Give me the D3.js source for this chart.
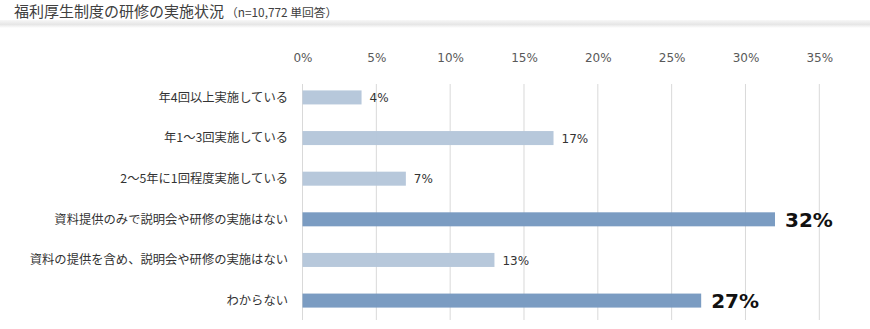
<!DOCTYPE html>
<html lang="ja">
<head>
<meta charset="utf-8">
<script src="https://cdn.jsdelivr.net/npm/d3@7"></script>
<style>
  html, body { margin: 0; padding: 0; background: #ffffff; }
  svg { display: block; font-family: "Noto Sans CJK JP", "Noto Sans", sans-serif; }
</style>
</head>
<body>
<svg id="chart" width="870" height="329"></svg>
<script>
// Survey answers, top to bottom
const categories = [
  "年4回以上実施している",
  "年1～3回実施している",
  "2～5年に1回程度実施している",
  "資料提供のみで説明会や研修の実施はない",
  "資料の提供を含め、説明会や研修の実施はない",
  "わからない"
];
const values = [4, 17, 7, 32, 13, 27];
const highlighted = [false, false, false, true, false, true];
const tickValues = [0, 5, 10, 15, 20, 25, 30, 35];

const titleText = "福利厚生制度の研修の実施状況";
const noteText = "（n=10,772 単回答）";

const svg = d3.select("#chart");
const W = 870, H = 329;

// Header band under the title
const defs = svg.append("defs");
const grad = defs.append("linearGradient")
  .attr("id", "band").attr("x1", 0).attr("y1", 0).attr("x2", 0).attr("y2", 1);
grad.append("stop").attr("offset", "0%").attr("stop-color", "#f7f7f7");
grad.append("stop").attr("offset", "55%").attr("stop-color", "#e6e6e6");
grad.append("stop").attr("offset", "100%").attr("stop-color", "#ffffff");
svg.append("rect").attr("x", 0).attr("y", 20).attr("width", W).attr("height", 8)
  .attr("fill", "url(#band)");

const title = svg.append("text").attr("x", 14).attr("y", 17)
  .attr("fill", "#404040");
title.append("tspan").attr("font-size", 15).text(titleText);
title.append("tspan").attr("font-size", 11.8).attr("dx", 2).text(noteText);

// Scales
const x = d3.scaleLinear().domain([0, 35]).range([302.5, 819.3]);
const y = d3.scaleBand().domain(categories).range([77, 321]).paddingInner(0.655).paddingOuter(0.33);

// Vertical gridlines
svg.append("g").selectAll("line").data(tickValues).join("line")
  .attr("x1", d => x(d)).attr("x2", d => x(d))
  .attr("y1", 84).attr("y2", 320)
  .attr("stroke", "#d9d9d9").attr("stroke-width", 1);

// Top axis labels
const axis = d3.axisTop(x).tickValues(tickValues).tickFormat(d => d + "%").tickSize(0).tickPadding(0);
const gAxis = svg.append("g").attr("transform", "translate(0,62)").call(axis);
gAxis.select(".domain").remove();
gAxis.selectAll("text")
  .attr("font-size", 12).attr("fill", "#595959")
  .attr("font-family", "'DejaVu Sans', sans-serif");

// Bars
svg.append("g").selectAll("rect").data(categories).join("rect")
  .attr("x", x(0))
  .attr("y", d => y(d))
  .attr("width", (d, i) => x(values[i]) - x(0))
  .attr("height", y.bandwidth())
  .attr("fill", (d, i) => highlighted[i] ? "#7799c0" : "#b5c6da")
  .attr("fill-opacity", 0.97);

// Category labels
svg.append("g").selectAll("text").data(categories).join("text")
  .attr("x", 288)
  .attr("y", d => y(d) + y.bandwidth() / 2)
  .attr("dy", "0.36em")
  .attr("text-anchor", "end")
  .attr("font-size", 12.3)
  .attr("fill", "#333333")
  .text(d => d);

// Value labels
svg.append("g").selectAll("text").data(categories).join("text")
  .attr("x", (d, i) => x(values[i]) + (highlighted[i] ? 10 : 8))
  .attr("y", d => y(d) + y.bandwidth() / 2)
  .attr("dy", (d, i) => highlighted[i] ? "0.36em" : "0.4em")
  .attr("font-family", "'DejaVu Sans', sans-serif")
  .attr("font-size", (d, i) => highlighted[i] ? 20 : 12)
  .attr("font-weight", (d, i) => highlighted[i] ? "bold" : "normal")
  .attr("fill", (d, i) => highlighted[i] ? "#111111" : "#333333")
  .text((d, i) => values[i] + "%");
</script>
</body>
</html>
